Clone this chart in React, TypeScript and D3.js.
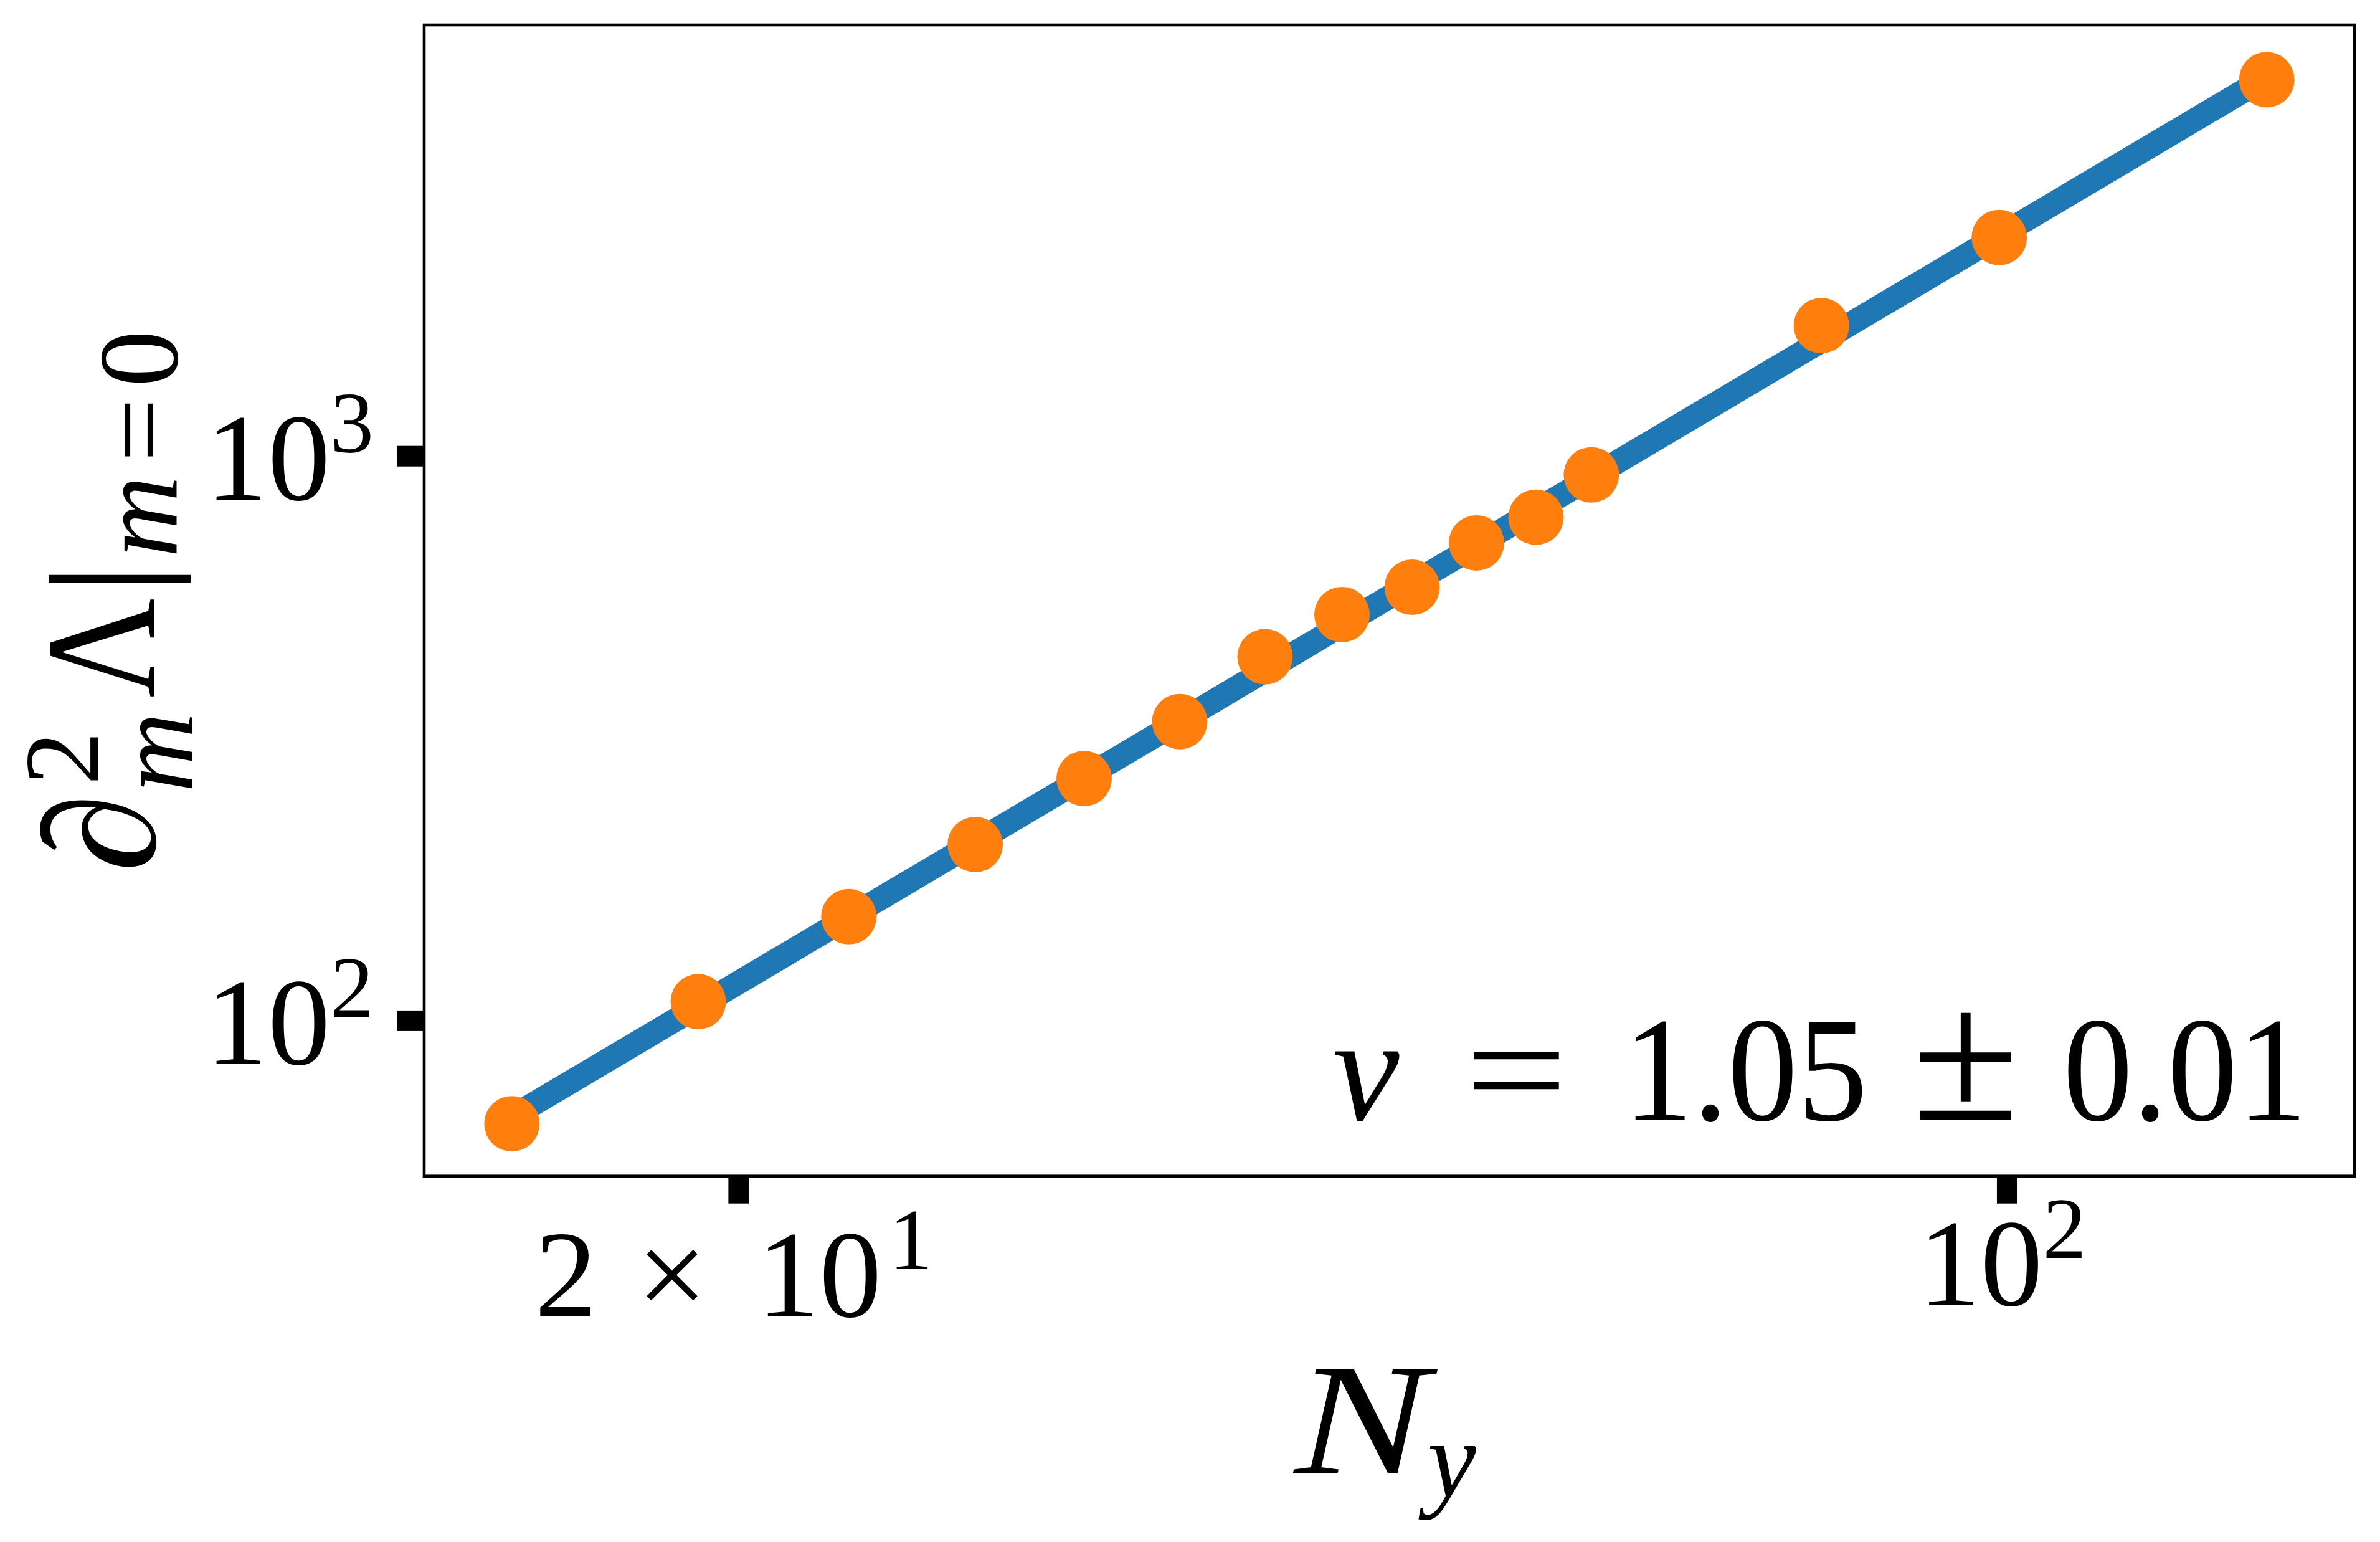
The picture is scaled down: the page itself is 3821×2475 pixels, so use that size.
import React from "react";
import * as d3 from "d3";

// ---- data ----
const sizesNy = [15, 19, 23, 27, 31, 35, 39, 43, 47, 51, 55, 59, 79, 99, 139];
const curvature = [65.7, 108.1, 152.9, 205.2, 268.5, 338.8, 441.4, 524.1, 586.0, 701.9, 779.6, 926.6, 1703, 2440, 4643];
const fitNy = [15, 139];
const fitCurvature = [67.6, 4690];
const xTickValues = [20, 100];
const xTickMantissa = ["2", ""];
const xTickExp = ["1", "2"];
const yTickValues = [100, 1000];
const yTickExp = ["2", "3"];
const annotation = ["\u03BD", "=", "1.05", "\u00B1", "0.01"];

const W = 3821;
const H = 2475;
const M = { left: 681, right: 3780, top: 40, bottom: 1887.7 };
const BLUE = "#1f77b4";
const ORANGE = "#ff7f0e";
const FONT = "'Liberation Serif', 'DejaVu Serif', serif";

function logPadded(vals: number[], frac = 0.05): [number, number] {
  const lo = Math.log10(d3.min(vals) as number);
  const hi = Math.log10(d3.max(vals) as number);
  const pad = (hi - lo) * frac;
  return [Math.pow(10, lo - pad), Math.pow(10, hi + pad)];
}

export default function App() {
  const x = d3.scaleLog().domain(logPadded([...sizesNy, ...fitNy])).range([M.left, M.right]);
  const y = d3.scaleLog().domain(logPadded([...curvature, ...fitCurvature])).range([M.bottom, M.top]);

  const line = d3
    .line<[number, number]>()
    .x((d) => x(d[0]))
    .y((d) => y(d[1]));
  const fitPts: [number, number][] = fitNy.map((n, i) => [n, fitCurvature[i]]);

  const tickW = 33;
  const tickL = 44;

  return (
    <svg
      width={W}
      height={H}
      viewBox={`0 0 ${W} ${H}`}
      style={{ position: "absolute", left: 0, top: 0, background: "#fff" }}
      fontFamily={FONT}
    >
      <rect x={0} y={0} width={W} height={H} fill="#fff" />
      {/* fit line */}
      <path d={line(fitPts) || ""} fill="none" stroke={BLUE} strokeWidth={38} strokeLinecap="square" />
      {/* data markers */}
      {sizesNy.map((n, i) => (
        <circle key={i} cx={x(n)} cy={y(curvature[i])} r={44.5} fill={ORANGE} />
      ))}
      {/* frame */}
      <rect
        x={M.left}
        y={M.top}
        width={M.right - M.left}
        height={M.bottom - M.top}
        fill="none"
        stroke="#000"
        strokeWidth={4.6}
      />
      {/* x ticks */}
      {xTickValues.map((v, i) => {
        const px = x(v);
        const hasMult = xTickMantissa[i] !== "";
        const baseY = M.bottom + (hasMult ? 225 : 207);
        return (
          <g key={"xt" + i}>
            <rect x={px - tickW / 2} y={M.bottom} width={tickW} height={tickL} fill="#000" />
            <text x={px - 8} y={baseY} fontSize={200} textAnchor="middle" fill="#000">
              {hasMult ? <tspan>{xTickMantissa[i]}</tspan> : null}
              {hasMult ? <tspan dx={64}>{"\u00D7"}</tspan> : null}
              <tspan dx={hasMult ? 80 : 0}>10</tspan>
              <tspan fontSize={140} dy={-76} dx={hasMult ? 12 : 0}>
                {xTickExp[i]}
              </tspan>
            </text>
          </g>
        );
      })}
      {/* y ticks */}
      {yTickValues.map((v, i) => {
        const py = y(v);
        return (
          <g key={"yt" + i}>
            <rect x={M.left - tickL} y={py - tickW / 2} width={tickL} height={tickW} fill="#000" />
            <text x={600} y={py + 70} fontSize={200} textAnchor="end" fill="#000">
              10
              <tspan fontSize={140} dy={-76}>
                {yTickExp[i]}
              </tspan>
            </text>
          </g>
        );
      })}
      {/* x label N_y */}
      <text x={2078} y={2365} fontSize={255} fontStyle="italic" fill="#000" textLength={215} lengthAdjust="spacingAndGlyphs">
        N
      </text>
      <text x={2292} y={2402} fontSize={175} fontStyle="italic" fill="#000">
        y
      </text>
      {/* y label  ∂²_m Λ |_{m=0} */}
      <g transform="translate(248,1400) rotate(-90)" fill="#000">
        <text x={0} y={0} fontSize={255} fontStyle="italic">
          {"\u2202"}
        </text>
        <text x={140} y={-90} fontSize={172}>
          2
        </text>
        <text x={128} y={61} fontSize={178} fontStyle="italic">
          m
        </text>
        <text x={280} y={0} fontSize={255} textLength={160} lengthAdjust="spacingAndGlyphs">
          {"\u039B"}
        </text>
        <text x={446} y={4} fontSize={250} textLength={50} lengthAdjust="spacingAndGlyphs">
          |
        </text>
        <text x={505} y={36} fontSize={182}>
          <tspan fontStyle="italic">m</tspan>
          <tspan dx={22}>=</tspan>
          <tspan dx={18}>0</tspan>
        </text>
      </g>
      {/* annotation ν = 1.05 ± 0.01 */}
      <g fill="#000" fontSize={240}>
        <text x={2140} y={1798} fontStyle="italic">
          {annotation[0]}
        </text>
        <text x={2352} y={1798} textLength={165} lengthAdjust="spacingAndGlyphs">
          {annotation[1]}
        </text>
        <text x={2606} y={1798} textLength={392} lengthAdjust="spacingAndGlyphs">
          {annotation[2]}
        </text>
        <text x={3070} y={1798} fontSize={305} textLength={172} lengthAdjust="spacingAndGlyphs">
          {annotation[3]}
        </text>
        <text x={3312} y={1798} textLength={392} lengthAdjust="spacingAndGlyphs">
          {annotation[4]}
        </text>
      </g>
    </svg>
  );
}
